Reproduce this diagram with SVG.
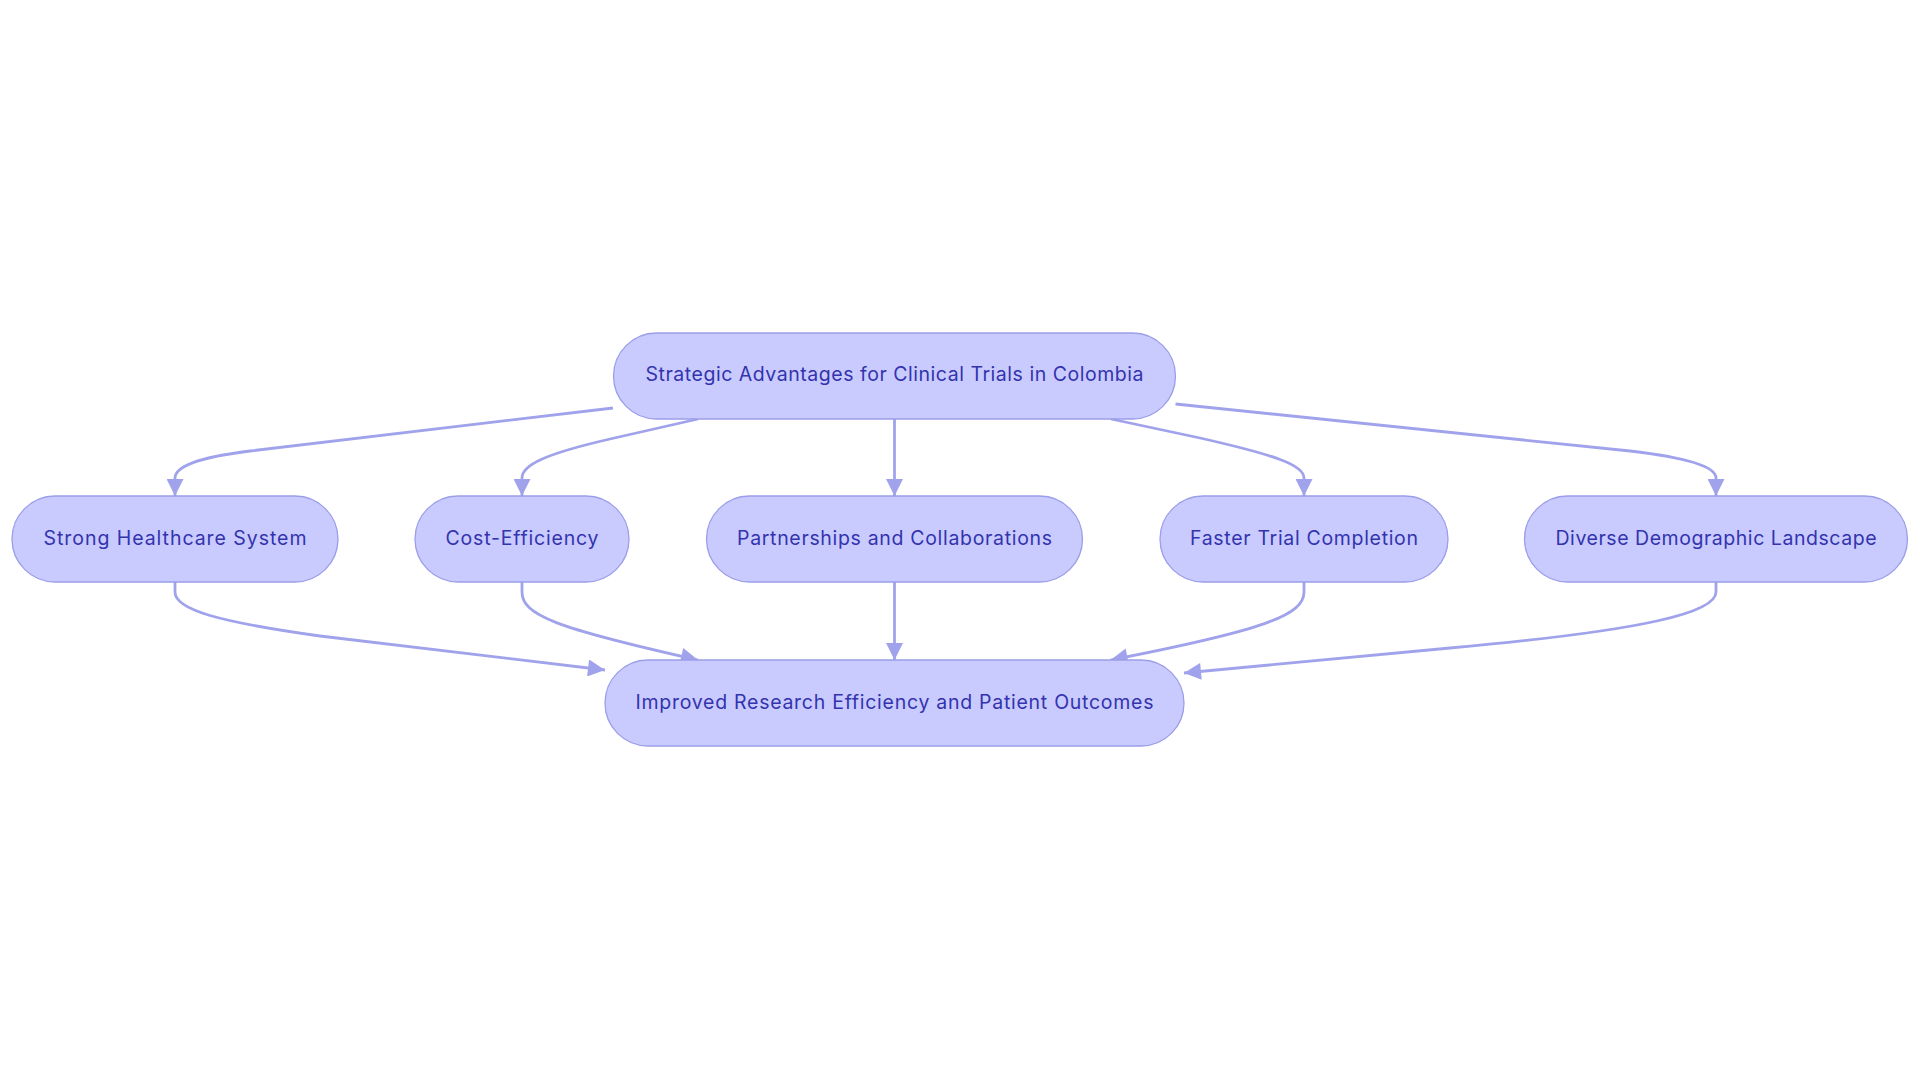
<svg xmlns="http://www.w3.org/2000/svg" width="1920" height="1083" viewBox="0 0 1920 1083">
<style>
.node rect{fill:#C9CBFE;stroke:#9B9EE8;stroke-width:1.3}
.node text{font-family:Inter,"Noto Sans","Liberation Sans",sans-serif;font-size:19.5px;fill:#3333AE;text-anchor:middle}
.edges path{fill:none;stroke:#A0A3EB;stroke-width:2.8;marker-end:url(#arr)}
</style>
<defs>
<marker id="arr" viewBox="0 0 10 10" refX="10" refY="5" markerUnits="userSpaceOnUse" markerWidth="20" markerHeight="17" orient="auto">
<path d="M0,0 L10,5 L0,10 Z" fill="#A0A3EB"/>
</marker>
</defs>
<rect width="1920" height="1083" fill="#FFFFFF"/>
<g class="edges">
<path d="M613,408 L250,451 C195,458 175,467 175,478 L175,496"/>
<path d="M698,419 L610,439 C545,454 522,465 522,478 L522,496"/>
<path d="M894.5,419 L894.5,496"/>
<path d="M1111,419 L1200,438 C1275,455 1304,465 1304,478 L1304,496"/>
<path d="M1175.5,404 L1630,451 C1690,458 1716,467 1716,478 L1716,496"/>
<path d="M175,582 L175,592 C175,610 220,622 320,636 L605,670"/>
<path d="M522,582 L522,592 C522,615 555,628 698,660"/>
<path d="M894.5,582 L894.5,660"/>
<path d="M1304,582 L1304,592 C1304,615 1265,630 1110.6,660"/>
<path d="M1716,582 L1716,592 C1716,612 1650,630 1450,648 L1184,673"/>
</g>
<g id="top" class="node"><rect x="613.5" y="333" width="562" height="86" rx="43"/><text x="894.5" y="381" textLength="498">Strategic Advantages for Clinical Trials in Colombia</text></g>
<g id="strong" class="node"><rect x="12" y="496" width="326" height="86" rx="43"/><text x="175" y="545" textLength="263">Strong Healthcare System</text></g>
<g id="cost" class="node"><rect x="415" y="496" width="214" height="86" rx="43"/><text x="522" y="545" textLength="153">Cost-Efficiency</text></g>
<g id="partner" class="node"><rect x="706.5" y="496" width="376" height="86" rx="43"/><text x="894.5" y="545" textLength="315">Partnerships and Collaborations</text></g>
<g id="faster" class="node"><rect x="1160" y="496" width="288" height="86" rx="43"/><text x="1304" y="545" textLength="228">Faster Trial Completion</text></g>
<g id="diverse" class="node"><rect x="1524.5" y="496" width="383" height="86" rx="43"/><text x="1716" y="545" textLength="321">Diverse Demographic Landscape</text></g>
<g id="improved" class="node"><rect x="605" y="660" width="579" height="86" rx="43"/><text x="894.5" y="709" textLength="518">Improved Research Efficiency and Patient Outcomes</text></g>
</svg>
